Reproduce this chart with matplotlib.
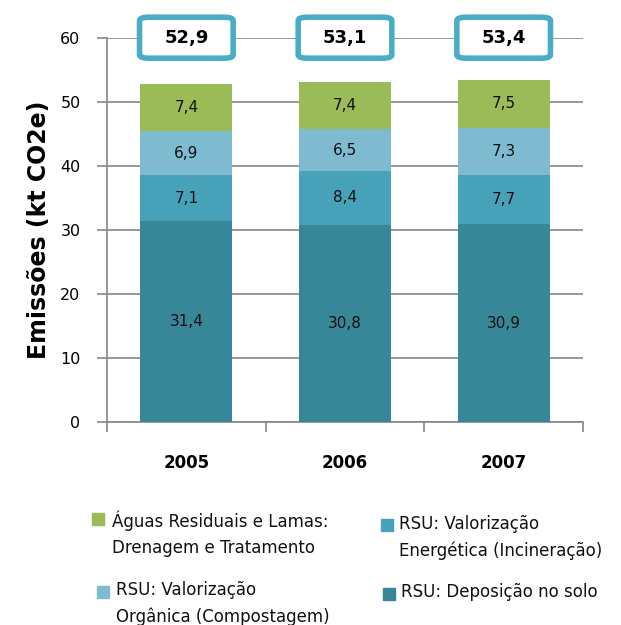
import matplotlib.pyplot as plt
from matplotlib.patches import FancyBboxPatch, Rectangle
import numpy as np

years = ['2005', '2006', '2007']
deposicao = [31.4, 30.8, 30.9]
energetica = [7.1, 8.4, 7.7]
organica = [6.9, 6.5, 7.3]
aguas = [7.4, 7.4, 7.5]
totais = [52.9, 53.1, 53.4]

colors = ['#388799', '#47A1B9', '#7FBBD0', '#9BBB59']
labels = ['RSU: Deposição no solo',
          'RSU: Valorização\nEnergética (Incineração)',
          'RSU: Valorização\nOrgânica (Compostagem)',
          'Águas Residuais e Lamas:\nDrenagem e Tratamento']
series = [deposicao, energetica, organica, aguas]

W, H = 621, 625
fig = plt.figure(figsize=(W / 100, H / 100), dpi=100)
ax = fig.add_axes([107 / W, 1 - 422 / H, 476 / W, 384.3 / H])

x = np.arange(len(years))
bottom = np.zeros(len(years))
for vals, col in zip(series, colors):
    ax.bar(x, vals, 0.58, bottom=bottom, color=col, zorder=3)
    for xi, b, v in zip(x, bottom, vals):
        ax.text(xi, b + v / 2, f'{v:.1f}'.replace('.', ','), ha='center',
                va='center', fontsize=11, color='#111111', zorder=4)
    bottom += np.array(vals)

# total boxes on the 60 line
for xi, t in zip(x, totais):
    box = FancyBboxPatch((xi - 0.295, 60 - 3.2), 0.59, 6.4,
                         boxstyle='round,pad=0,rounding_size=0.06',
                         mutation_aspect=9, fc='white', ec='#4BACC6', lw=4,
                         zorder=5, clip_on=False)
    ax.add_patch(box)
    ax.text(xi, 60, f'{t:.1f}'.replace('.', ','), ha='center', va='center',
            fontsize=13, fontweight='bold', zorder=6)

ax.set_xlim(-0.5, 2.5)
ax.set_ylim(0, 60)
ax.set_yticks(range(0, 61, 10))
ax.yaxis.grid(True, color='#868686', lw=1.2, zorder=0)
ax.set_axisbelow(True)
ax.set_xticks(x)
ax.set_xticklabels(years, fontweight='bold', fontsize=12)
ax.tick_params(axis='x', length=0, pad=23)
ax.set_xticks([-0.5, 0.5, 1.5, 2.5], minor=True)
ax.tick_params(axis='x', which='minor', length=7, color='#868686', width=1.2)
ax.tick_params(axis='y', length=7, color='#868686', width=1.2, labelsize=11.5, pad=12)
for s in ['top', 'right']:
    ax.spines[s].set_visible(False)
for s in ['left', 'bottom']:
    ax.spines[s].set_color('#868686')
    ax.spines[s].set_linewidth(1.2)
ax.set_ylabel('Emissões (kt CO2e)', fontsize=17, fontweight='bold', labelpad=7)

# legend, laid out as in the original (two columns, marker on first line)
def px(xp, yp):
    return xp / W, 1 - yp / H

leg = [  # (series index, marker x, marker y, text x, first line y)
    (3, 92, 519, 112, 521),
    (2, 97, 592, 116, 590),
    (1, 381, 525, 399, 524),
    (0, 383, 594, 401, 592),
]
for i, mx, my, tx, ty in leg:
    fx, fy = px(mx, my + 6)
    fig.add_artist(Rectangle((fx, fy), 12 / W, 12 / H, color=colors[i],
                             transform=fig.transFigure))
    for k, line in enumerate(labels[i].split('\n')):
        fx, fy = px(tx, ty + k * 27)
        fig.text(fx, fy, line, fontsize=12, va='center', ha='left', color='#111111')

fig.savefig('out.png', dpi=100)
